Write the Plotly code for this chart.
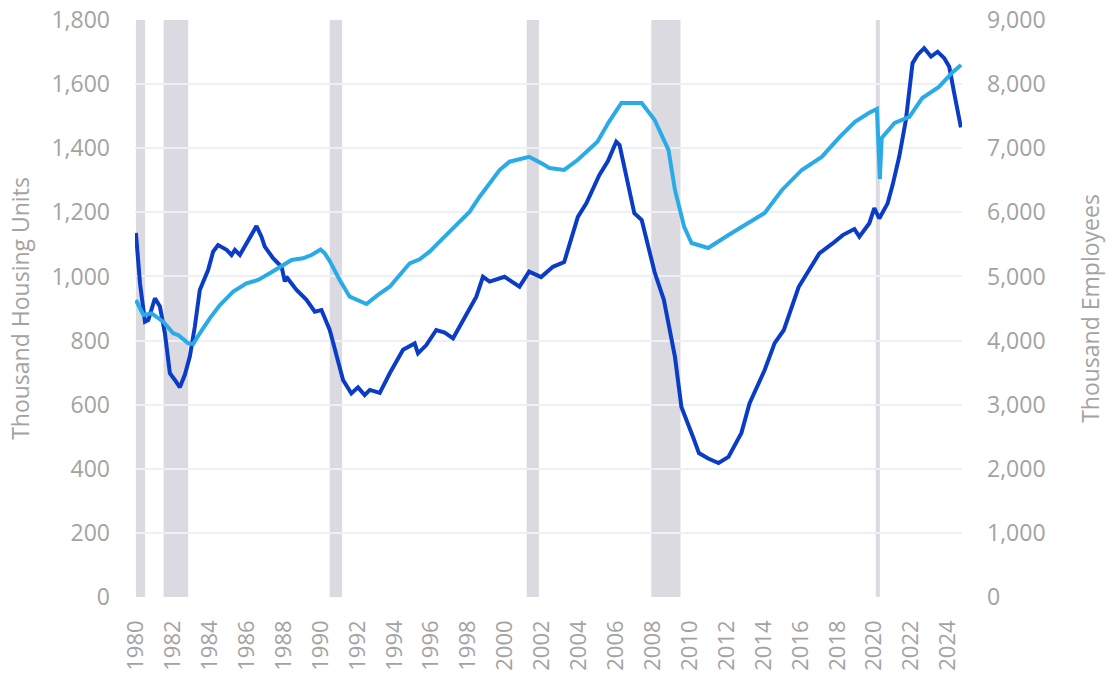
import plotly.graph_objects as go

# Housing units under construction (thousands), left axis
units_year = [1980.0, 1980.22, 1980.49, 1980.67, 1981.03, 1981.3, 1981.57, 1981.84, 1982.11, 1982.38,
              1982.65, 1982.92, 1983.19, 1983.46, 1983.91, 1984.18, 1984.45, 1984.91, 1985.18, 1985.36,
              1985.63, 1985.99, 1986.26, 1986.53, 1986.8, 1986.98, 1987.43, 1987.89, 1988.07, 1988.15,
              1988.7, 1989.24, 1989.69, 1990.05, 1990.5, 1990.86, 1991.22, 1991.67, 1992.03, 1992.39,
              1992.67, 1993.21, 1993.75, 1994.47, 1995.1, 1995.28, 1995.73, 1996.27, 1996.73, 1997.18,
              1997.9, 1998.44, 1998.8, 1999.16, 1999.97, 2000.78, 2001.3, 2001.95, 2002.59, 2003.2,
              2003.94, 2004.4, 2005.1, 2005.57, 2006.02, 2006.2, 2007.0, 2007.4, 2008.1, 2008.6,
              2009.2, 2009.55, 2010.2, 2010.5, 2011.0, 2011.56, 2012.1, 2012.8, 2013.24, 2014.06,
              2014.6, 2015.1, 2015.9, 2016.6, 2017.02, 2017.74, 2018.29, 2018.92, 2019.19, 2019.73,
              2020.0, 2020.27, 2020.72, 2020.99, 2021.35, 2021.71, 2022.07, 2022.34, 2022.7, 2023.07,
              2023.43, 2023.79, 2024.06, 2024.33, 2024.69]
units_value = [1136, 979, 859, 864, 932, 906, 823, 698, 677, 654,
               693, 750, 843, 958, 1020, 1077, 1098, 1083, 1067, 1083,
               1067, 1103, 1129, 1157, 1124, 1093, 1057, 1030, 984, 999,
               958, 927, 890, 895, 833, 760, 677, 635, 654, 630,
               646, 637, 698, 771, 791, 760, 786, 833, 825, 807,
               885, 937, 999, 984, 999, 968, 1015, 998, 1030, 1045,
               1186, 1228, 1316, 1360, 1420, 1410, 1197, 1176, 1013, 927,
               749, 593, 496, 449, 432, 418, 437, 512, 604, 708,
               792, 833, 967, 1036, 1072, 1103, 1129, 1148, 1124, 1166,
               1213, 1181, 1228, 1285, 1374, 1488, 1665, 1691, 1712, 1686,
               1701, 1681, 1654, 1571, 1465]

# Residential construction employees (thousands), right axis
emp_year = [1980.0, 1980.4, 1980.85, 1981.12, 1981.48, 1982.02, 1982.29, 1982.83, 1983.1, 1983.46,
            1984.0, 1984.55, 1985.27, 1985.99, 1986.62, 1987.25, 1987.89, 1988.43, 1989.05, 1989.51,
            1990.0, 1990.23, 1990.5, 1991.04, 1991.58, 1992.12, 1992.49, 1993.11, 1993.75, 1994.29,
            1994.83, 1995.37, 1995.91, 1996.45, 1997.0, 1997.54, 1998.08, 1998.62, 1999.16, 1999.7,
            2000.24, 2000.85, 2001.3, 2002.0, 2002.4, 2003.2, 2003.94, 2005.0, 2005.6, 2006.3,
            2007.0, 2007.4, 2008.1, 2008.85, 2009.2, 2009.7, 2010.1, 2011.0, 2012.1, 2013.2,
            2014.06, 2015.0, 2016.07, 2017.15, 2018.13, 2018.95, 2019.7, 2020.14, 2020.3, 2020.4,
            2021.1, 2021.9, 2022.6, 2023.5, 2024.2, 2024.7]
emp_value = [4633, 4399, 4425, 4373, 4295, 4113, 4087, 3957, 3946, 4113,
             4347, 4555, 4763, 4893, 4945, 5049, 5153, 5256, 5283, 5334,
             5420, 5361, 5240, 4945, 4684, 4606, 4570, 4711, 4840, 5023,
             5205, 5268, 5386, 5542, 5698, 5854, 6010, 6244, 6453, 6660,
             6790, 6827, 6866, 6760, 6692, 6661, 6820, 7100, 7400, 7706,
             7700, 7706, 7441, 6973, 6349, 5772, 5522, 5444, 5647, 5834,
             5990, 6349, 6661, 6864, 7176, 7410, 7550, 7613, 6520, 7160,
             7394, 7488, 7784, 7956, 8174, 8300]

# Recession periods (start, end) in decimal years
recession_start = [1980.0, 1981.5, 1990.5, 2001.17, 2007.92, 2020.08]
recession_end = [1980.5, 1982.83, 1991.17, 2001.83, 2009.5, 2020.3]

x_ticks = list(range(1980, 2025, 2))
left_ticks = list(range(0, 1801, 200))
right_ticks = list(range(0, 9001, 1000))

DARK = "#0a3cc6"
LIGHT = "#2aabe8"
GREY_TXT = "#a3a3a3"
GRID = "#eef0f6"
FONT = "Open Sans"

fig = go.Figure()
fig.add_trace(go.Scatter(x=units_year, y=units_value, mode="lines",
                         line=dict(color=DARK, width=4), name="Housing units under construction",
                         yaxis="y"))
fig.add_trace(go.Scatter(x=emp_year, y=emp_value, mode="lines",
                         line=dict(color=LIGHT, width=4), name="Residential construction employees",
                         yaxis="y2"))

for s, e in zip(recession_start, recession_end):
    fig.add_shape(type="rect", xref="x", yref="paper", x0=s, x1=e, y0=0, y1=1,
                  fillcolor="#dadae0", line_width=0, layer="below")

fig.update_layout(
    width=1118, height=673,
    margin=dict(l=135, r=156, t=20, b=76, autoexpand=False),
    paper_bgcolor="white", plot_bgcolor="white",
    showlegend=False,
    font=dict(family=FONT, color=GREY_TXT, size=23),
    xaxis=dict(range=[1979.95, 2024.75], tickvals=x_ticks, ticktext=[str(t) for t in x_ticks],
               tickangle=-90, showgrid=False, zeroline=False, showline=False, automargin=False,
               ticklabeloverflow="allow",
               ticks="", ticklabelstandoff=18, tickfont=dict(size=22, color=GREY_TXT)),
    yaxis=dict(range=[0, 1800], tickvals=left_ticks, tickformat=",", showgrid=True,
               gridcolor=GRID, gridwidth=2, zeroline=False, showline=False, ticks="",
               automargin=False, ticklabeloverflow="allow",
               ticklabelstandoff=24, tickfont=dict(size=23, color=GREY_TXT),
               title=dict(text="Thousand Housing Units", standoff=15,
                          font=dict(size=23, color=GREY_TXT))),
    yaxis2=dict(range=[0, 9000], tickvals=right_ticks, tickformat=",", overlaying="y",
                side="right", showgrid=False, zeroline=False, showline=False, ticks="",
                automargin=False, ticklabeloverflow="allow",
                ticklabelstandoff=24, tickfont=dict(size=23, color=GREY_TXT),
                title=dict(text="Thousand Employees", standoff=38,
                           font=dict(size=23, color=GREY_TXT))),
)

fig.write_html("out.html", config={"displayModeBar": False},
               post_script="document.body.style.margin='0';")
